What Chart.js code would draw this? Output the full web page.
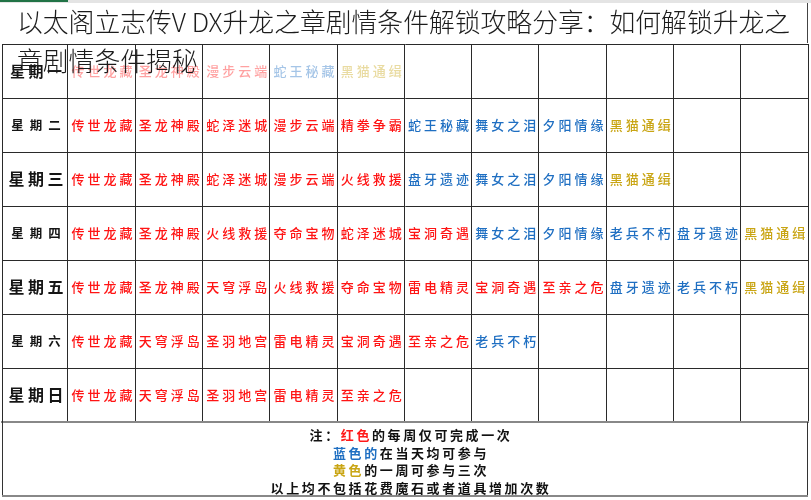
<!DOCTYPE html>
<html>
<head>
<meta charset="utf-8">
<script src="https://cdn.jsdelivr.net/npm/chart.js@4.4.1/dist/chart.umd.min.js"></script>
<style>
  html, body { margin: 0; padding: 0; background: #fff; }
  #wrap { position: relative; width: 811px; height: 500px; overflow: hidden; background: #fff; }
  #canvas-tableau { position: absolute; left: 0; top: 0; }
  #barre { position: absolute; left: 0; top: 0; width: 811px; height: 3px; background: #e4e4e4; }
  #barre span { position: absolute; left: 0; top: 0; width: 68px; height: 2px; background: #217346; }
  #titre-fond { position: absolute; left: 0; top: 3px; width: 807px; height: 40px; background: rgba(255,255,255,0.94); border-right: 1px solid #444; }
  #titre { position: absolute; left: 17px; top: 1px; font-family: 'Noto Sans CJK SC', sans-serif; font-weight: 300; font-size: 25.8px; line-height: 39px; color: #1c1c1c; white-space: nowrap; }
</style>
</head>
<body>
<div id="wrap">
  <canvas id="canvas-tableau" width="811" height="500"></canvas>
  <div id="barre"><span></span></div>
  <div id="titre-fond"></div>
  <div id="titre">以太阁立志传V DX升龙之章剧情条件解锁攻略分享：如何解锁升龙之<br>章剧情条件揭秘</div>
</div>
<script>
'use strict';

/* global Chart */

// Jours (lignes du tableau)
const jours = ['星期一', '星期二', '星期三', '星期四', '星期五', '星期六', '星期日'];

// Rouge : chaque semaine une seule fois
const rouges = [
    ['传世龙藏', '圣龙神殿', '漫步云端'],
    ['传世龙藏', '圣龙神殿', '蛇泽迷城', '漫步云端', '精拳争霸'],
    ['传世龙藏', '圣龙神殿', '蛇泽迷城', '漫步云端', '火线救援'],
    ['传世龙藏', '圣龙神殿', '火线救援', '夺命宝物', '蛇泽迷城', '宝洞奇遇'],
    ['传世龙藏', '圣龙神殿', '天穹浮岛', '火线救援', '夺命宝物', '雷电精灵', '宝洞奇遇', '至亲之危'],
    ['传世龙藏', '天穹浮岛', '圣羽地宫', '雷电精灵', '宝洞奇遇', '至亲之危'],
    ['传世龙藏', '天穹浮岛', '圣羽地宫', '雷电精灵', '至亲之危']
];

// Bleu : tous les jours
const bleus = [
    ['蛇王秘藏'],
    ['蛇王秘藏', '舞女之泪', '夕阳情缘'],
    ['盘牙遗迹', '舞女之泪', '夕阳情缘'],
    ['舞女之泪', '夕阳情缘', '老兵不朽', '盘牙遗迹'],
    ['盘牙遗迹', '老兵不朽'],
    ['老兵不朽'],
    []
];

// Jaune : trois fois par semaine
const jaunes = [
    ['黑猫通缉'],
    ['黑猫通缉'],
    ['黑猫通缉'],
    ['黑猫通缉'],
    ['黑猫通缉'],
    [],
    []
];

// Note en bas du tableau
const notes = [
    [['注：', '#111'], ['红色', '#ff1a1a'], ['的每周仅可完成一次', '#111']],
    [['蓝色的', '#1f6fc2'], ['在当天均可参与', '#111']],
    [['黄色', '#c9a514'], ['的一周可参与三次', '#111']],
    [['以上均不包括花费魔石或者道具增加次数', '#111']]
];

const couleurs = { rouge: '#ff1414', bleu: '#1f6fc2', jaune: '#c9a514' };
const taillesJours = [15, 12.5, 16, 12.5, 16, 12.5, 16];

function points(listes, decalage) {
    let res = [];
    listes.forEach((liste, i) => {
        let debut = decalage(i);
        liste.forEach((nom, j) => {
            res.push({ x: debut + j + 1.5, y: i + 0.5, texte: nom });
        });
    });
    return res;
}

const ptsJours = jours.map((j, i) => ({ x: 0.51, y: i + 0.5, texte: j }));
const ptsRouges = points(rouges, () => 0);
const ptsBleus = points(bleus, i => rouges[i].length);
const ptsJaunes = points(jaunes, i => rouges[i].length + bleus[i].length);

function texteEspace(ctx, texte, cx, cy, espace) {
    ctx.letterSpacing = espace + 'px';
    let w = ctx.measureText(texte).width - espace;
    ctx.textAlign = 'left';
    ctx.textBaseline = 'middle';
    ctx.fillText(texte, cx - w / 2, cy);
    return w;
}

// Texte dans les cellules
const pluginCellules = {
    id: 'cellules',
    afterDatasetsDraw(chart) {
        const ctx = chart.ctx;
        chart.data.datasets.forEach((ds, i) => {
            const meta = chart.getDatasetMeta(i);
            meta.data.forEach((pt, j) => {
                const raw = ds.data[j];
                ctx.save();
                if (ds.label === 'jours') {
                    let t = taillesJours[Math.floor(raw.y)];
                    ctx.font = 'bold ' + t + 'px "Noto Sans CJK SC"';
                    ctx.fillStyle = '#151515';
                    texteEspace(ctx, raw.texte, pt.x + 1, pt.y, t > 14 ? 3.5 : 6);
                } else {
                    ctx.font = '500 13px "Noto Sans CJK SC"';
                    ctx.fillStyle = ds.couleurTexte;
                    ctx.globalAlpha = raw.y < 1 ? 0.4 : 1;
                    texteEspace(ctx, raw.texte, pt.x + 0.5, pt.y, 3);
                }
                ctx.restore();
            });
        });
    },
    afterDraw(chart) {
        const ctx = chart.ctx;
        const a = chart.chartArea;
        const bas = 496;
        ctx.save();
        // cadre de la note
        ctx.strokeStyle = '#333';
        ctx.lineWidth = 1;
        ctx.beginPath();
        ctx.moveTo(a.left + 0.5, a.bottom);
        ctx.lineTo(a.left + 0.5, bas);
        ctx.moveTo(a.right - 0.5, a.bottom);
        ctx.lineTo(a.right - 0.5, bas);
        ctx.stroke();
        ctx.strokeStyle = '#888';
        ctx.lineWidth = 2;
        ctx.beginPath();
        ctx.moveTo(a.left, bas);
        ctx.lineTo(a.right, bas);
        ctx.stroke();

        ctx.font = 'bold 13px "Noto Sans CJK SC"';
        ctx.textBaseline = 'middle';
        ctx.textAlign = 'left';
        ctx.letterSpacing = '2.6px';
        const cx = (a.left + a.right) / 2 + 6;
        notes.forEach((ligne, k) => {
            let total = ligne.reduce((s, r) => s + ctx.measureText(r[0]).width, 0);
            let x = cx - total / 2;
            let y = a.bottom + 13 + k * 17.7;
            ligne.forEach(r => {
                ctx.fillStyle = r[1];
                ctx.fillText(r[0], x, y);
                x += ctx.measureText(r[0]).width;
            });
        });
        ctx.restore();
    }
};

const ctxTab = document.getElementById('canvas-tableau').getContext('2d');

const dataTab = {
    datasets: [
        { label: 'jours', data: ptsJours },
        { label: '红色', data: ptsRouges, couleurTexte: couleurs.rouge },
        { label: '蓝色', data: ptsBleus, couleurTexte: couleurs.bleu },
        { label: '黄色', data: ptsJaunes, couleurTexte: couleurs.jaune }
    ]
};

const optionsTab = {
    responsive: false,
    animation: false,
    devicePixelRatio: 1,
    layout: { padding: { left: 2, top: 44, right: 3, bottom: 78 } },
    elements: { point: { radius: 0, hoverRadius: 0 } },
    plugins: { legend: { display: false }, tooltip: { enabled: false } },
    events: [],
    scales: {
        x: {
            type: 'linear',
            min: 0.02,
            max: 12,
            afterBuildTicks: s => { s.ticks = [0.02, 1, 2, 3, 4, 5, 6, 7, 8, 9, 10, 11, 12].map(v => ({ value: v })); },
            ticks: { display: false },
            grid: { color: '#2a2a2a', lineWidth: 1, drawTicks: false },
            border: { color: '#888', width: 2 }
        },
        y: {
            type: 'linear',
            reverse: true,
            min: 0,
            max: 7,
            afterBuildTicks: s => { s.ticks = [0, 1, 2, 3, 4, 5, 6, 7].map(v => ({ value: v })); },
            ticks: { display: false },
            grid: {
                color: c => c.tick && c.tick.value === 7 ? '#888' : '#2a2a2a',
                lineWidth: c => c.tick && c.tick.value === 7 ? 2 : 1,
                drawTicks: false
            },
            border: { color: '#2a2a2a', width: 1 }
        }
    }
};

// eslint-disable-next-line no-unused-vars
let tableau = new Chart(ctxTab, {
    type: 'scatter',
    data: dataTab,
    options: optionsTab,
    plugins: [pluginCellules]
});
</script>
</body>
</html>
